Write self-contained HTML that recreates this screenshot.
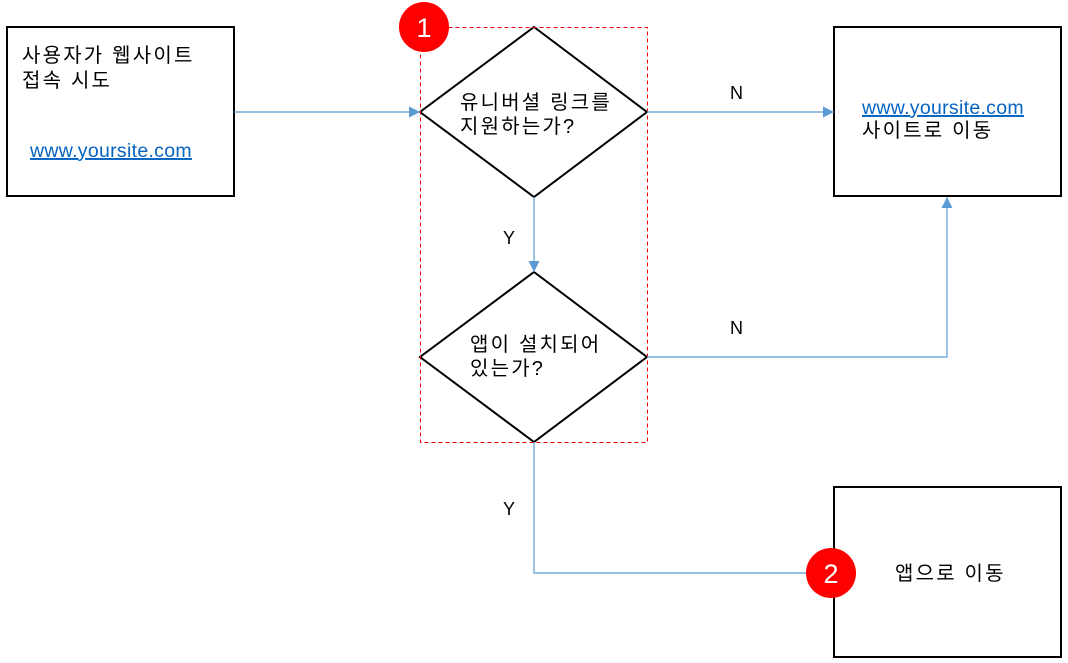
<!DOCTYPE html>
<html><head><meta charset="utf-8"><style>body{margin:0;background:#fff}svg{display:block}text{font-family:"Liberation Sans","Noto Sans CJK KR",sans-serif;font-size:20px;fill:#000;letter-spacing:2.2px}.u{fill:#0563c1;text-decoration:underline;font-size:19.5px;letter-spacing:0.3px}.l{letter-spacing:0;font-size:18px}</style></head>
<body>
<svg width="1068" height="663" viewBox="0 0 1068 663">
<defs><marker id="a" viewBox="0 0 10 10" refX="10" refY="5" markerWidth="12" markerHeight="11" markerUnits="userSpaceOnUse" orient="auto"><path d="M0,0L10,5L0,10z" fill="#5b9bd5"/></marker></defs>
<g fill="none" stroke="#000" stroke-width="2">
<rect x="7" y="27" width="227" height="169"/>
<rect x="834" y="27" width="227" height="169"/>
<rect x="834" y="487" width="227" height="170"/>
<path d="M534,27L647,112L534,197L420,112Z"/>
<path d="M534,272L647,357L534,442L420,357Z"/>
</g>
<rect x="420.5" y="27.5" width="227" height="415" fill="none" stroke="#e00" stroke-width="1" stroke-dasharray="4,3"/>
<g fill="none" stroke="#5b9bd5" stroke-width="1.2">
<path d="M234,112H420" marker-end="url(#a)"/>
<path d="M647,112H834" marker-end="url(#a)"/>
<path d="M534,197V272" marker-end="url(#a)"/>
<path d="M647,357H947V197" marker-end="url(#a)"/>
<path d="M534,442V573H808"/>
</g>
<circle cx="424" cy="27" r="25" fill="#f00"/>
<text x="424" y="37" text-anchor="middle" style="fill:#fff;font-size:27px;letter-spacing:0">1</text>
<circle cx="831" cy="573" r="25" fill="#f00"/>
<text x="831" y="583" text-anchor="middle" style="fill:#fff;font-size:27px;letter-spacing:0">2</text>
<text x="22" y="62">사용자가 웹사이트</text>
<text x="22" y="87">접속 시도</text>
<text x="30" y="157" class="u">www.yoursite.com</text>
<text x="460" y="109">유니버셜 링크를</text>
<text x="460" y="133">지원하는가?</text>
<text x="470" y="351">앱이 설치되어</text>
<text x="470" y="375">있는가?</text>
<text x="862" y="114" class="u">www.yoursite.com</text>
<text x="862" y="137">사이트로 이동</text>
<text x="895" y="580">앱으로 이동</text>
<text x="730" y="99" class="l">N</text>
<text x="730" y="334" class="l">N</text>
<text x="503" y="244" class="l">Y</text>
<text x="503" y="515" class="l">Y</text>
</svg>
</body></html>
